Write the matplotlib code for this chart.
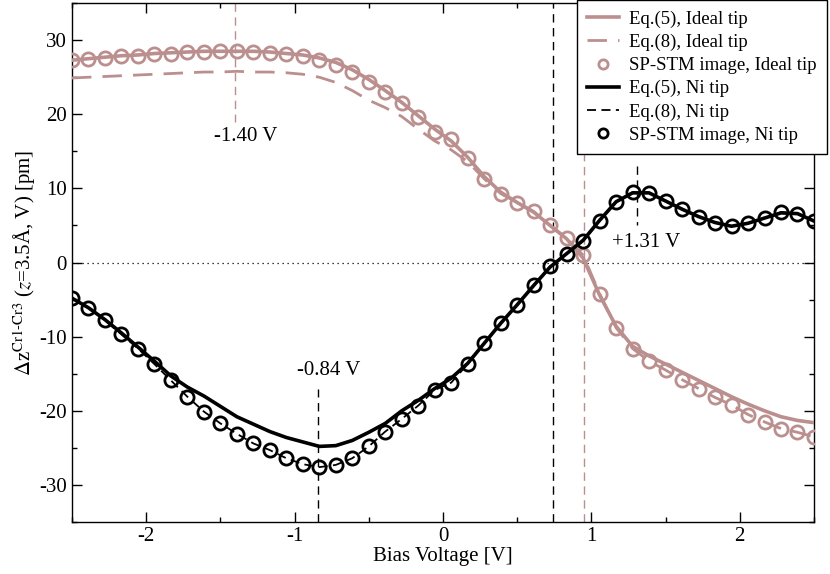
import matplotlib
matplotlib.use("Agg")
import matplotlib.pyplot as plt
import numpy as np

plt.rcParams['font.family'] = ['Liberation Serif', 'DejaVu Serif']
plt.rcParams['mathtext.fontset'] = 'stix'
plt.rcParams['axes.unicode_minus'] = False

# bias grid (46 points, -2.5 .. 2.5 V)
bias = np.linspace(-2.5, 2.5, 46)

ideal_stm = [27.3, 27.5, 27.6, 27.8, 27.9, 28.1, 28.2, 28.4, 28.4, 28.5,
             28.5, 28.4, 28.3, 28.1, 27.9, 27.3, 26.6, 25.7, 24.4, 23.0,
             21.5, 19.7, 17.6, 16.6, 14.1, 11.3, 9.3, 8.1, 6.9, 5.0,
             3.3, 1.0, -4.2, -8.8, -11.6, -13.3, -14.5, -15.8, -17.0, -18.2,
             -19.2, -20.5, -21.5, -22.4, -22.9, -23.5]
ideal_eq5 = [27.3, 27.5, 27.7, 27.9, 28.0, 28.2, 28.3, 28.4, 28.5, 28.5,
             28.5, 28.5, 28.4, 28.2, 28.0, 27.6, 27.0, 26.0, 24.7, 23.2,
             21.6, 19.8, 18.0, 16.4, 14.2, 11.6, 9.5, 8.1, 6.8, 5.0,
             3.2, 0.6, -4.4, -8.6, -11.3, -12.6, -13.7, -14.8, -15.9, -17.0,
             -18.1, -19.1, -20.0, -20.8, -21.3, -21.6]
ideal_eq8 = [24.9, 25.0, 25.1, 25.2, 25.3, 25.4, 25.5, 25.6, 25.7, 25.7,
             25.8, 25.7, 25.7, 25.6, 25.4, 25.0, 24.3, 23.2, 21.9, 20.9,
             19.7, 18.0, 16.4, 15.2, 13.6, 11.3, 9.3, 8.1, 6.9, 5.0,
             3.3, 1.0, -4.2, -8.8, -11.6, -13.3, -14.5, -15.8, -17.0, -18.2,
             -19.2, -20.5, -21.5, -22.4, -22.9, -23.5]

ni_stm = [-4.75, -6.1, -7.8, -9.7, -11.6, -13.7, -15.9, -18.1, -20.1, -21.7,
          -23.1, -24.4, -25.3, -26.4, -27.2, -27.6, -27.3, -26.4, -24.8, -22.8,
          -21.1, -19.3, -17.2, -16.2, -13.7, -10.9, -8.2, -5.7, -3.05, -0.5,
          1.2, 2.9, 5.6, 8.2, 9.5, 9.4, 8.3, 7.2, 6.2, 5.4,
          4.9, 5.3, 6.0, 6.8, 6.6, 5.6]
ni_eq5 = [-4.8, -6.1, -7.7, -9.5, -11.4, -13.3, -15.3, -16.8, -18.0, -19.4,
          -20.8, -21.8, -22.8, -23.6, -24.2, -24.8, -24.7, -24.0, -22.9, -21.7,
          -20.0, -18.6, -17.0, -15.6, -13.6, -10.9, -8.2, -5.7, -3.1, -0.6,
          1.2, 3.0, 5.7, 8.2, 9.4, 9.4, 8.3, 7.2, 6.2, 5.4,
          4.9, 5.3, 6.0, 6.7, 6.6, 5.6]
ni_eq8 = ni_stm

pink = '#bc8f8f'
thin_dash = (0, (6, 4))

fig = plt.figure(figsize=(8.3, 5.74), dpi=100)
ax = fig.add_axes([0.0867, 0.0906, 0.894, 0.904])

# reference lines
ax.axhline(0, color='black', lw=0.9, ls=(0, (1, 3)), zorder=1)
ax.axvline(0.74, color='black', lw=1.0, ls=thin_dash, zorder=1)
ax.axvline(0.95, color=pink, lw=1.0, ls=thin_dash, zorder=1)
ax.plot([-1.40, -1.40], [35, 19.0], color=pink, lw=1.0, ls=thin_dash, zorder=1)
ax.plot([-0.84, -0.84], [-35, -17.0], color='black', lw=1.0, ls=thin_dash, zorder=1)
ax.plot([1.31, 1.31], [13.0, 5.1], color='black', lw=1.0, ls=thin_dash, zorder=1)

ax.plot(bias, ideal_eq5, color=pink, lw=2.6, label='Eq.(5), Ideal tip', zorder=3)
ax.plot(bias, ideal_eq8, color=pink, lw=2.0, ls=(0, (7, 4)), label='Eq.(8), Ideal tip', zorder=3)
ax.plot(bias, ideal_stm, 'o', ms=9.5, mfc='none', mec=pink, mew=2.0,
        label='SP-STM image, Ideal tip', zorder=4)
ax.plot(bias, ni_eq5, color='black', lw=2.6, label='Eq.(5), Ni tip', zorder=3)
ax.plot(bias, ni_eq8, color='black', lw=1.3, ls=(0, (5, 3)), label='Eq.(8), Ni tip', zorder=3)
ax.plot(bias, ni_stm, 'o', ms=9.5, mfc='none', mec='black', mew=2.0,
        label='SP-STM image, Ni tip', zorder=4)

ax.text(-1.33, 17.0, '-1.40 V', fontsize=15, ha='center', va='center')
ax.text(-0.77, -14.6, '-0.84 V', fontsize=15, ha='center', va='center')
ax.text(1.37, 2.7, '+1.31 V', fontsize=15, ha='center', va='center')

ax.set_xlim(-2.5, 2.5)
ax.set_ylim(-35, 35)
ax.set_xticks([-2, -1, 0, 1, 2])
ax.set_xticks(np.arange(-2.5, 2.51, 0.5), minor=True)
ax.set_yticks([-30, -20, -10, 0, 10, 20, 30])
ax.set_yticks(np.arange(-35, 35.1, 5), minor=True)
ax.tick_params(which='both', direction='in', top=True, right=True, labelsize=15, width=1.0)
ax.tick_params(which='major', length=7.5)
ax.tick_params(which='minor', length=3.8)
for s in ax.spines.values():
    s.set_linewidth(1.0)

ax.set_xlabel('Bias Voltage [V]', fontsize=15, labelpad=1)
ax.set_ylabel(r'$\Delta$z$^{\rm Cr1\text{-}Cr3}$ ($\it z$=3.5Å, V) [pm]', fontsize=15, labelpad=1)

leg = ax.legend(loc='upper right', bbox_to_anchor=(827 / 830, 1.0), bbox_transform=fig.transFigure,
                fontsize=13.5, frameon=True, fancybox=False, framealpha=1, edgecolor='black',
                borderaxespad=0, handlelength=1.7, labelspacing=0.32, borderpad=0.55,
                markerscale=0.7, handletextpad=0.55)
leg.get_frame().set_linewidth(1.0)

fig.savefig('out.png', dpi=100)
